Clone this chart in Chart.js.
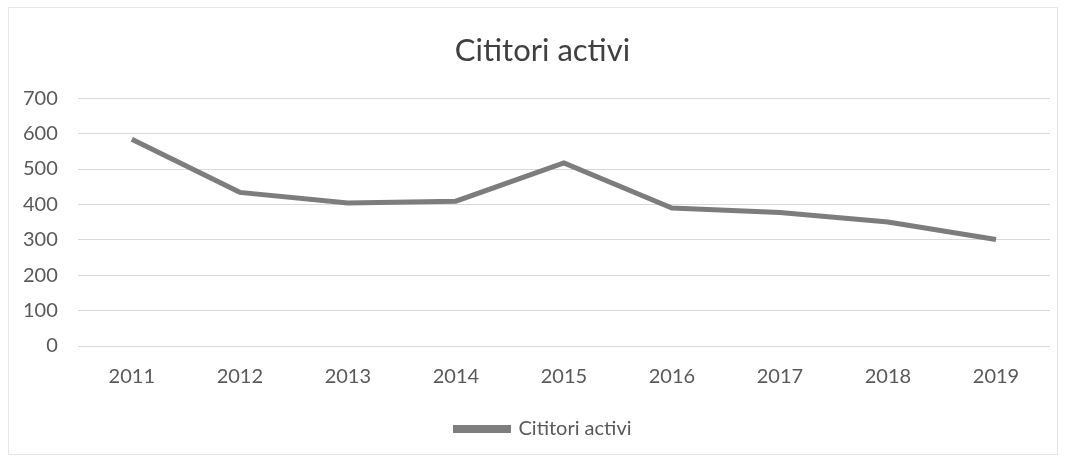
<!DOCTYPE html>
<html>
<head>
<meta charset="utf-8">
<script src="https://cdn.jsdelivr.net/npm/chart.js@4/dist/chart.umd.min.js"></script>
<style>
  html, body { margin: 0; padding: 0; background: #fff; }
  #wrap { position: relative; width: 1068px; height: 461px; }
  #frame { position: absolute; left: 8px; top: 7px; width: 1050px; height: 448px; border: 1px solid #e6e6e6; box-sizing: border-box; }
  canvas { position: absolute; left: 0; top: 0; }
</style>
</head>
<body>
<div id="wrap">
  <div id="frame"></div>
  <canvas id="chart" width="1068" height="461"></canvas>
</div>
<script>
var years = ['2011','2012','2013','2014','2015','2016','2017','2018','2019'];
var cititoriActivi = [584, 434, 404, 409, 517, 390, 377, 350, 301];
var yTicks = [0, 100, 200, 300, 400, 500, 600, 700];

var textColor = '#595959';
var fontFamily = 'Lato, "Open Sans", sans-serif';

// title and legend sit a bit right of the canvas centre in the original
var blockShift = {
  id: 'blockShift',
  afterLayout: function (chart) {
    chart.legend.left += 17;
    chart.legend.right += 17;
    chart.titleBlock.left += 16;
    chart.titleBlock.right += 16;
  }
};

new Chart(document.getElementById('chart'), {
  type: 'line',
  data: {
    labels: years,
    datasets: [{
      label: 'Cititori activi',
      data: cititoriActivi,
      borderColor: '#7d7d7d',
      backgroundColor: '#858585',
      borderWidth: 5,
      pointRadius: 0,
      tension: 0
    }]
  },
  options: {
    responsive: false,
    animation: false,
    layout: { padding: { left: 3, right: 18, top: 32, bottom: 12 } },
    plugins: {
      title: {
        display: true,
        text: 'Cititori activi',
        color: '#404040',
        font: { family: fontFamily, size: 31, weight: 'normal' },
        padding: { top: 0, bottom: 29 }
      },
      legend: {
        position: 'bottom',
        labels: {
          color: textColor,
          font: { family: fontFamily, size: 20 },
          boxWidth: 53,
          boxHeight: 3,
          padding: 19
        }
      },
      tooltip: { enabled: false }
    },
    scales: {
      x: {
        offset: true,
        grid: { display: false },
        border: { display: false },
        ticks: { color: textColor, font: { family: fontFamily, size: 20 }, padding: 11 }
      },
      y: {
        min: 0,
        max: 700,
        afterBuildTicks: function (axis) {
          axis.ticks = yTicks.map(function (v) { return { value: v }; });
        },
        grid: { color: '#d9d9d9', lineWidth: 1, drawTicks: false },
        border: { display: false },
        ticks: { color: textColor, font: { family: fontFamily, size: 20 }, padding: 20 }
      }
    }
  },
  plugins: [blockShift]
});
</script>
</body>
</html>
